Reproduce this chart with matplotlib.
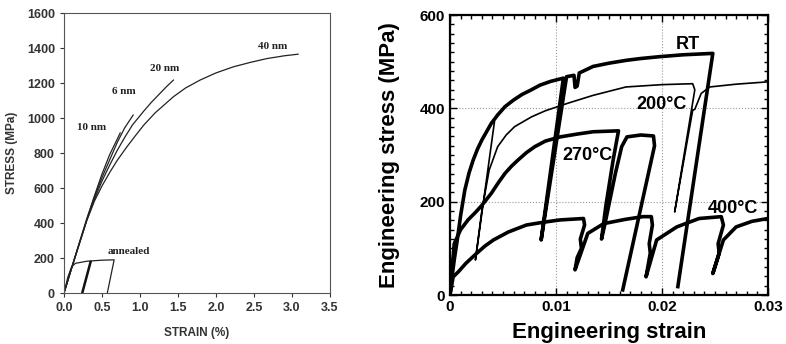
import numpy as np
import matplotlib.pyplot as plt
from matplotlib.ticker import MultipleLocator

plt.rcParams['font.family'] = ['Liberation Sans', 'DejaVu Sans']

# ---- left panel: strain (%) vs stress (MPa)
nm10_x = [0, 0.1, 0.2, 0.3, 0.4, 0.5, 0.6, 0.74]
nm10_y = [0, 145, 285, 425, 555, 680, 790, 915]
nm6_x = [0, 0.1, 0.2, 0.3, 0.4, 0.5, 0.6, 0.7, 0.8, 0.91]
nm6_y = [0, 143, 282, 420, 548, 660, 760, 860, 945, 1017]
nm20_x = [0, 0.1, 0.2, 0.3, 0.4, 0.5, 0.6, 0.7, 0.8, 0.9, 1.05, 1.15, 1.25, 1.35, 1.44]
nm20_y = [0, 142, 280, 415, 535, 640, 730, 815, 890, 960, 1040, 1090, 1135, 1180, 1217]
nm40_x = [0, 0.1, 0.2, 0.3, 0.4, 0.5, 0.6, 0.7, 0.83, 0.95, 1.05, 1.2, 1.44, 1.6, 1.79,
          2.0, 2.23, 2.45, 2.67, 2.9, 3.08]
nm40_y = [0, 140, 278, 415, 525, 612, 688, 758, 837, 905, 960, 1030, 1122, 1172, 1217,
          1258, 1293, 1318, 1340, 1356, 1365]
ann_x = [0, 0.05, 0.1, 0.15, 0.3, 0.5, 0.66, 0.57]
ann_y = [0, 90, 150, 170, 182, 188, 190, 0]
ann_unl_x = [0.35, 0.24]
ann_unl_y = [178, 0]

# ---- right panel: engineering strain vs engineering stress (MPa)
rt_x = [0, 0.0002, 0.0004, 0.0007, 0.001, 0.0014, 0.0018, 0.0022, 0.0026, 0.003, 0.0035,
        0.0039, 0.0045, 0.0052, 0.006, 0.0068, 0.0076, 0.0085, 0.0095, 0.0107,
        0.0086, 0.0110, 0.0117, 0.0118, 0.0120, 0.0122, 0.0135, 0.015, 0.0166, 0.018,
        0.0198, 0.022, 0.0248, 0.0215]
rt_y = [0, 40, 75, 120, 170, 225, 262, 290, 313, 332, 352,
        368, 386, 404, 418, 430, 439, 450, 458, 465,
        118, 468, 471, 445, 448, 476, 490, 497, 503, 507,
        511, 515, 518, 18]
c200_x = [0, 0.0002, 0.0004, 0.0007, 0.001, 0.0014, 0.0018, 0.0022, 0.0026, 0.003, 0.0035,
          0.0039, 0.0042, 0.0024, 0.003, 0.0037, 0.0045, 0.0053, 0.0061, 0.0077, 0.009,
          0.0111, 0.0135, 0.0166, 0.0200, 0.0229, 0.0231, 0.0212, 0.0229,
          0.0231, 0.0237, 0.0245, 0.0270, 0.0300]
c200_y = [0, 40, 75, 120, 170, 225, 262, 290, 313, 332, 352,
          368, 372, 75, 180, 268, 318, 343, 361, 382, 395,
          411, 428, 446, 451, 453, 440, 178, 396,
          398, 432, 446, 452, 457]
c270_x = [0, 0.0004, 0.001, 0.0017, 0.0024, 0.003, 0.0039, 0.0046, 0.0052, 0.0058, 0.0064,
          0.0072, 0.008, 0.009, 0.0104, 0.012, 0.0135, 0.0159,
          0.0154, 0.0147, 0.0143, 0.0146, 0.0156, 0.0162, 0.0167, 0.0180, 0.0192, 0.0193, 0.0163]
c270_y = [0, 110, 140, 161, 177, 192, 218, 242, 261, 276, 289,
          305, 318, 330, 339, 345, 350, 352,
          290, 190, 120, 150, 260, 318, 339, 343, 341, 320, 11]
c400_x = [0, 0.0003, 0.0008, 0.0015, 0.0025, 0.0033, 0.0041, 0.0055, 0.0072, 0.0088, 0.0104,
          0.0126, 0.0127, 0.0123, 0.0124, 0.0120, 0.0118, 0.0130, 0.0145, 0.0165, 0.0182,
          0.0190, 0.0191, 0.0188, 0.0189, 0.0185, 0.0195, 0.0214, 0.0235, 0.0256, 0.0258,
          0.0253, 0.0254, 0.0248, 0.0258, 0.0270, 0.0285, 0.0300]
c400_y = [0, 39, 50, 68, 89, 105, 118, 135, 150, 156, 161,
          164, 150, 120, 100, 80, 54, 132, 153, 162, 168,
          168, 150, 110, 90, 39, 118, 146, 164, 168, 150,
          110, 90, 46, 118, 146, 158, 164]

fig = plt.figure(figsize=(7.86, 3.44), dpi=100)

# left panel
ax1 = fig.add_axes([0.0814, 0.148, 0.3384, 0.814])
lw = 0.9
ax1.plot(nm10_x, nm10_y, color='#222222', lw=lw)
ax1.plot(nm6_x, nm6_y, color='#222222', lw=lw)
ax1.plot(nm20_x, nm20_y, color='#222222', lw=lw)
ax1.plot(nm40_x, nm40_y, color='#222222', lw=lw)
ax1.plot(ann_x, ann_y, color='#222222', lw=lw)
ax1.plot(ann_unl_x, ann_unl_y, color='#111111', lw=1.8)
ax1.set_xlim(0, 3.5)
ax1.set_ylim(0, 1600)
ax1.set_xticks(np.arange(0, 3.51, 0.5))
ax1.set_xticklabels(['%.1f' % v for v in np.arange(0, 3.51, 0.5)])
ax1.set_yticks(np.arange(0, 1601, 200))
ax1.tick_params(direction='out', length=3, width=0.8, labelsize=9, colors='#333333')
for lab in ax1.get_xticklabels() + ax1.get_yticklabels():
    lab.set_fontweight('bold')
for s in ax1.spines.values():
    s.set_color('#555555')
    s.set_linewidth(0.8)
ax1.set_xlabel('STRAIN (%)', fontsize=8.5, fontweight='bold', color='#333333', labelpad=9)
ax1.set_ylabel('STRESS (MPa)', fontsize=8.5, fontweight='bold', color='#333333', labelpad=6)
serif = dict(family=['Liberation Serif', 'DejaVu Serif'], fontweight='bold', fontsize=8, color='#222222')
ax1.text(0.17, 930, '10 nm', **serif)
ax1.text(0.63, 1140, '6 nm', **serif)
ax1.text(1.13, 1270, '20 nm', **serif)
ax1.text(2.55, 1395, '40 nm', **serif)
ax1.text(0.57, 225, 'annealed', **serif)

# right panel
ax2 = fig.add_axes([0.5725, 0.1424, 0.4045, 0.8136])
ax2.plot(rt_x, rt_y, color='black', lw=2.6, solid_joinstyle='round')
ax2.plot(c200_x, c200_y, color='black', lw=1.2, solid_joinstyle='round')
ax2.plot(c270_x, c270_y, color='black', lw=2.6, solid_joinstyle='round')
ax2.plot(c400_x, c400_y, color='black', lw=2.6, solid_joinstyle='round')
ax2.set_xlim(0, 0.03)
ax2.set_ylim(0, 600)
ax2.set_xticks([0, 0.01, 0.02, 0.03])
ax2.set_xticklabels(['0', '0.01', '0.02', '0.03'])
ax2.set_yticks([0, 200, 400, 600])
ax2.xaxis.set_minor_locator(MultipleLocator(0.001))
ax2.yaxis.set_minor_locator(MultipleLocator(20))
ax2.grid(True, which='major', color='#999999', linestyle=':', linewidth=0.8)
ax2.tick_params(which='both', direction='in', top=True, right=True, width=1.0)
ax2.tick_params(which='major', length=5, labelsize=11)
ax2.tick_params(which='minor', length=3)
for lab in ax2.get_xticklabels() + ax2.get_yticklabels():
    lab.set_fontweight('bold')
for s in ax2.spines.values():
    s.set_linewidth(1.6)
ax2.set_xlabel('Engineering strain', fontsize=16, fontweight='bold', labelpad=6)
ax2.set_ylabel('Engineering stress (MPa)', fontsize=16, fontweight='bold', labelpad=14)
lab = dict(fontsize=13, fontweight='bold', color='black')
ax2.text(0.0213, 528, 'RT', **lab)
ax2.text(0.0176, 398, '200°C', **lab)
ax2.text(0.0106, 290, '270°C', **lab)
ax2.text(0.0243, 176, '400°C', **lab)

fig.savefig('out.png', dpi=100)
